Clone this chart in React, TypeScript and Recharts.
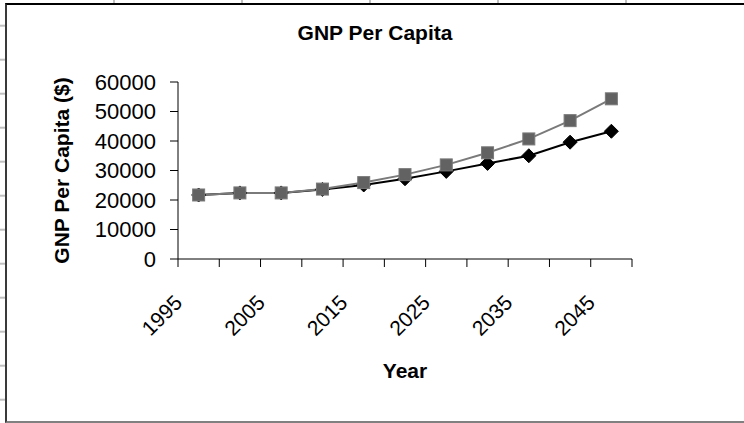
import React from 'react';
import { LineChart, Line, XAxis, YAxis } from 'recharts';

const years = ['1995', '2000', '2005', '2010', '2015', '2020', '2025', '2030', '2035', '2040', '2045'];
const lowGrowth = [21700, 22400, 22400, 23600, 25100, 27200, 29700, 32400, 35000, 39600, 43300];
const highGrowth = [21700, 22400, 22400, 23700, 25900, 28600, 31900, 36000, 40700, 46900, 54300];
const yTicks = [0, 10000, 20000, 30000, 40000, 50000, 60000];

const data = years.map((year, i) => ({ year, low: lowGrowth[i], high: highGrowth[i] }));

const FONT = '"Liberation Sans", Arial, sans-serif';
const W = 744;
const H = 423;
const PLOT_LEFT = 178;
const PLOT_RIGHT = 632;
const PLOT_TOP = 82;
const PLOT_BOTTOM = 259;
const X_AXIS_H = 60;
const HALF_BAND = (PLOT_RIGHT - PLOT_LEFT) / years.length / 2;

const sheetRows = Array.from({ length: 12 }, (_, i) => 25.7 + i * 34);
const sheetCols = Array.from({ length: 5 }, (_, i) => 114 + i * 128);

function XTick(props: any) {
  const { x, y, index, payload } = props;
  const showLabel = index % 2 === 0;
  const lx = x - 15;
  const ly = y + 45;
  return (
    <g>
      <line x1={x - HALF_BAND} y1={y} x2={x - HALF_BAND} y2={y + 8} stroke="#000" strokeWidth={1} />
      {index === years.length - 1 && (
        <line x1={x + HALF_BAND} y1={y} x2={x + HALF_BAND} y2={y + 8} stroke="#000" strokeWidth={1} />
      )}
      {showLabel && (
        <text
          x={lx}
          y={ly}
          textAnchor="end"
          fontSize={21}
          fontFamily={FONT}
          fill="#000"
          transform={`rotate(-45 ${lx} ${ly})`}
        >
          {payload.value}
        </text>
      )}
    </g>
  );
}

function YTitle(props: any) {
  const vb = props.viewBox || {};
  const cy = (vb.y ?? PLOT_TOP) + (vb.height ?? PLOT_BOTTOM - PLOT_TOP) / 2;
  const x = 69;
  return (
    <text
      x={x}
      y={cy}
      textAnchor="middle"
      fontSize={21}
      fontWeight="bold"
      fontFamily={FONT}
      fill="#000"
      transform={`rotate(-90 ${x} ${cy})`}
    >
      GNP Per Capita ($)
    </text>
  );
}

const renderDiamond = (p: any) => {
  const { cx, cy, index } = p;
  if (cx == null || cy == null) return <g key={`d${index}`} />;
  const r = 7;
  return (
    <polygon
      key={`d${index}`}
      points={`${cx},${cy - r} ${cx + r},${cy} ${cx},${cy + r} ${cx - r},${cy}`}
      fill="#000"
      stroke="#000"
      strokeWidth={1}
    />
  );
};

const renderSquare = (p: any) => {
  const { cx, cy, index } = p;
  if (cx == null || cy == null) return <g key={`s${index}`} />;
  const s = 12;
  return (
    <rect
      key={`s${index}`}
      x={cx - s / 2}
      y={cy - s / 2}
      width={s}
      height={s}
      fill="#626262"
      stroke="#7a7a7a"
      strokeWidth={1}
    />
  );
};

export default function App() {
  return (
    <div
      style={{
        position: 'absolute',
        left: 0,
        top: 0,
        width: W,
        height: H,
        overflow: 'hidden',
        background: '#fff',
        fontFamily: FONT,
      }}
    >
      <svg width={W} height={H} style={{ position: 'absolute', left: 0, top: 0 }}>
        {sheetRows.map((y) => (
          <line key={`r${y}`} x1={0} y1={y} x2={5} y2={y} stroke="#c0c0c0" strokeWidth={2} />
        ))}
        {sheetCols.map((x) => (
          <line key={`c${x}`} x1={x} y1={0} x2={x} y2={3} stroke="#c0c0c0" strokeWidth={2} />
        ))}
      </svg>
      <div
        style={{
          position: 'absolute',
          left: 5,
          top: 3,
          width: 800,
          height: H - 3 - 2 - 2,
          borderTop: '2px solid #000',
          borderLeft: '2px solid #3a3a3a',
          borderBottom: '2px solid #808080',
          background: '#fff',
        }}
      />
      <div
        style={{
          position: 'absolute',
          left: 0,
          width: 750,
          top: 20,
          textAlign: 'center',
          fontSize: 21,
          fontWeight: 'bold',
          fontFamily: FONT,
          color: '#000',
          lineHeight: '26px',
        }}
      >
        GNP Per Capita
      </div>
      <div style={{ position: 'absolute', left: 0, top: 0 }}>
        <LineChart
          width={W}
          height={H}
          data={data}
          margin={{ top: PLOT_TOP, right: W - PLOT_RIGHT, bottom: H - PLOT_BOTTOM - X_AXIS_H, left: 0 }}
        >
          <XAxis
            dataKey="year"
            height={X_AXIS_H}
            interval={0}
            padding={{ left: HALF_BAND, right: HALF_BAND }}
            tickLine={false}
            tickSize={0}
            tickMargin={0}
            axisLine={{ stroke: '#000', strokeWidth: 1 }}
            tick={<XTick />}
            label={{
              value: 'Year',
              content: () => (
                <text
                  x={(PLOT_LEFT + PLOT_RIGHT) / 2}
                  y={378}
                  textAnchor="middle"
                  fontSize={21}
                  fontWeight="bold"
                  fontFamily={FONT}
                  fill="#000"
                >
                  Year
                </text>
              ),
            }}
          />
          <XAxis
            xAxisId="top"
            orientation="top"
            dataKey="year"
            height={0}
            tick={false}
            tickLine={false}
            axisLine={{ stroke: '#808080', strokeWidth: 1.5 }}
          />
          <YAxis
            width={PLOT_LEFT}
            domain={[0, 60000]}
            ticks={yTicks}
            interval={0}
            tickSize={8}
            tickMargin={14}
            tickLine={{ stroke: '#000' }}
            axisLine={{ stroke: '#000', strokeWidth: 1 }}
            tick={{ fontSize: 22, fontFamily: FONT, fill: '#000' }}
            label={{ value: 'GNP Per Capita ($)', content: <YTitle /> }}
          />
          <YAxis
            yAxisId="right"
            orientation="right"
            width={0}
            domain={[0, 60000]}
            tick={false}
            tickLine={false}
            axisLine={{ stroke: '#808080', strokeWidth: 1.5 }}
          />
          <Line
            dataKey="low"
            name="Low growth"
            stroke="#000"
            strokeWidth={2}
            dot={renderDiamond}
            activeDot={false}
            isAnimationActive={false}
          />
          <Line
            dataKey="high"
            name="High growth"
            stroke="#7a7a7a"
            strokeWidth={2}
            dot={renderSquare}
            activeDot={false}
            isAnimationActive={false}
          />
        </LineChart>
      </div>
    </div>
  );
}
